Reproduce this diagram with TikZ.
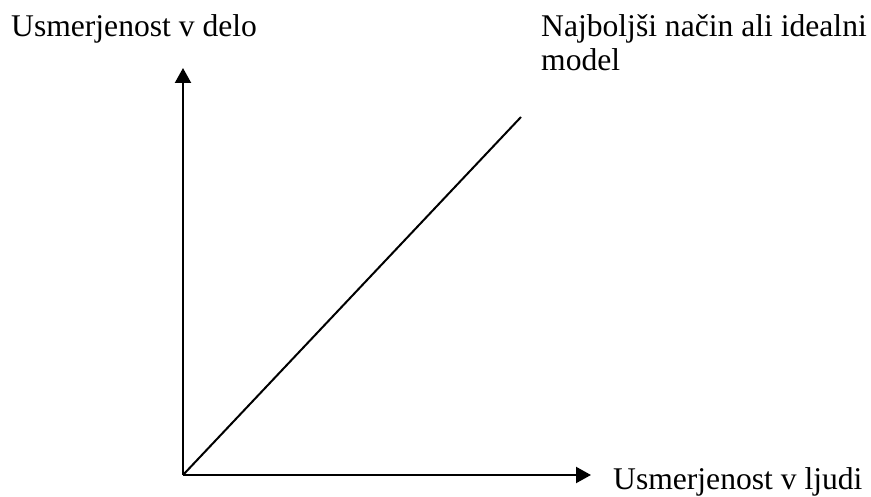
\documentclass[tikz,border=0pt]{standalone}
\usepackage{fontspec}
\setmainfont{Liberation Serif}
\usetikzlibrary{arrows.meta, positioning}

\begin{document}
\begin{tikzpicture}[x=1pt, y=-1pt,
    axis/.style={-{Triangle[length=15pt, width=16pt]}, line width=2.2pt},
    lbl/.style={anchor=base west, inner sep=0pt, font=\fontsize{31.6}{36}\selectfont}]
    \useasboundingbox (0,0) rectangle (871,497);

    % Axes
    \coordinate (O) at (183,475);
    \coordinate (ytip) at (183,68);
    \coordinate (xtip) at (591,475);
    \coordinate (best) at (521,117);
    \draw[axis] (O) -- (ytip);
    \draw[axis] (O) -- (xtip);

    % Ideal line
    \draw[line width=2pt] (O) -- (best);

    % Labels
    \node[lbl] (delo) at (11,37) {Usmerjenost v delo};
    \node[lbl] (ideal) at (541,37) {Najboljši način ali idealni};
    \node[lbl] (model) at (541,71) {model};
    \node[lbl] (ljudi) at (613,489) {Usmerjenost v ljudi};
\end{tikzpicture}
\end{document}
